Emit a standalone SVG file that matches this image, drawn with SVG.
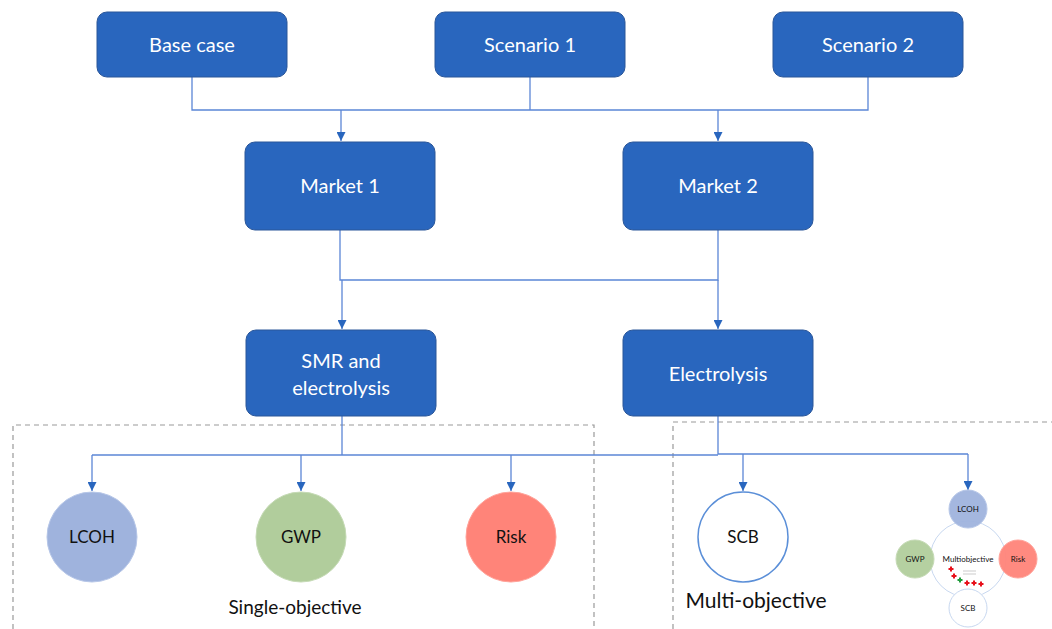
<svg xmlns="http://www.w3.org/2000/svg" width="1052" height="629" viewBox="0 0 1052 629">
<style>
.box{fill:#2966BE;stroke:#2A5699;stroke-width:1}
.bt{fill:#fff;font-family:Lato,"Liberation Sans",sans-serif;font-size:20px;text-anchor:middle}
.ct{fill:#111;font-family:Lato,"Liberation Sans",sans-serif;text-anchor:middle}
.con{fill:none;stroke:#5B86D6;stroke-width:1.3}
.dash{fill:none;stroke:#999;stroke-width:1.2;stroke-dasharray:5 4}
.lab{fill:#111;font-family:Lato,"Liberation Sans",sans-serif;text-anchor:middle}
.rp{fill:#E8111B}
</style>
<defs>
<marker id="ah" viewBox="0 0 10 10" refX="10" refY="5" markerWidth="9" markerHeight="9" markerUnits="userSpaceOnUse" orient="auto">
<path d="M0,0 L10,5 L0,10 z" fill="#2966BE"/>
</marker>
<path id="plus" d="M-2.5,-1h1.5v-1.5h2v1.5h1.5v2h-1.5v1.5h-2v-1.5h-1.5z"/>
</defs>
<rect width="1052" height="629" fill="#fff"/>
<g id="dashed">
<path class="dash" d="M13,629 V425 H594 V629"/>
<path class="dash" d="M673,629 V422 H1052"/>
</g>
<g id="connectors">
<path class="con" d="M192,77 V110 H868 V77"/>
<path class="con" d="M530,77 V110"/>
<path class="con" d="M341,110 V141" marker-end="url(#ah)"/>
<path class="con" d="M718,110 V141" marker-end="url(#ah)"/>
<path class="con" d="M340,230 V280 H718 V230"/>
<path class="con" d="M342,280 V329" marker-end="url(#ah)"/>
<path class="con" d="M718,280 V329" marker-end="url(#ah)"/>
<path class="con" d="M342,416 V455"/>
<path class="con" d="M92,455 H718"/>
<path class="con" d="M718,416 V454 H968"/>
<path class="con" d="M92,455 V491" marker-end="url(#ah)"/>
<path class="con" d="M301,455 V491" marker-end="url(#ah)"/>
<path class="con" d="M511,455 V491" marker-end="url(#ah)"/>
<path class="con" d="M743,454 V491" marker-end="url(#ah)"/>
<path class="con" d="M968,454 V490" marker-end="url(#ah)"/>
</g>
<g id="base-case"><rect class="box" x="97" y="12" width="190" height="65" rx="10"/><text class="bt" x="192" y="52">Base case</text></g>
<g id="scenario-1"><rect class="box" x="435" y="12" width="190" height="65" rx="10"/><text class="bt" x="530" y="52">Scenario 1</text></g>
<g id="scenario-2"><rect class="box" x="773" y="12" width="190" height="65" rx="10"/><text class="bt" x="868" y="52">Scenario 2</text></g>
<g id="market-1"><rect class="box" x="245" y="142" width="190" height="88" rx="10"/><text class="bt" x="340" y="193">Market 1</text></g>
<g id="market-2"><rect class="box" x="623" y="142" width="190" height="88" rx="10"/><text class="bt" x="718" y="193">Market 2</text></g>
<g id="smr"><rect class="box" x="246" y="330" width="190" height="86" rx="10"/><text class="bt" x="341" y="368">SMR and</text><text class="bt" x="341" y="395">electrolysis</text></g>
<g id="electrolysis"><rect class="box" x="623" y="330" width="190" height="86" rx="10"/><text class="bt" x="718" y="381">Electrolysis</text></g>
<g id="lcoh"><circle cx="92" cy="537" r="45" fill="#9FB3DD" stroke="#B7C7E8"/><text class="ct" x="92" y="543" font-size="17">LCOH</text></g>
<g id="gwp"><circle cx="301" cy="537" r="45" fill="#B1CD9C" stroke="#C5DAB5"/><text class="ct" x="301" y="543" font-size="17">GWP</text></g>
<g id="risk"><circle cx="511" cy="537" r="45" fill="#FF8479" stroke="#FFA39A"/><text class="ct" x="511" y="543" font-size="17">Risk</text></g>
<g id="scb"><circle cx="743" cy="537" r="45" fill="#fff" stroke="#5B8FD8" stroke-width="1.5"/><text class="ct" x="743" y="543" font-size="17">SCB</text></g>
<g id="multi">
<circle cx="968" cy="559" r="38" fill="#fff" stroke="#C8D8F0" stroke-width="1"/>
<circle cx="968" cy="509" r="19" fill="#9FB3DD" fill-opacity="0.95" stroke="#B7C7E8"/>
<circle cx="915" cy="559" r="19" fill="#B1CD9C" fill-opacity="0.95" stroke="#C5DAB5"/>
<circle cx="1018" cy="559" r="19" fill="#FF8479" fill-opacity="0.95" stroke="#FFA39A"/>
<circle cx="968" cy="608" r="19" fill="#fff" stroke="#C8D8F0"/>
<text class="ct" x="968" y="512" font-size="8">LCOH</text>
<text class="ct" x="915" y="562" font-size="8">GWP</text>
<text class="ct" x="1018" y="562" font-size="8">Risk</text>
<text class="ct" x="968" y="611" font-size="8">SCB</text>
<text class="ct" x="968" y="562" font-size="8" fill="#333">Multiobjective</text>
<use href="#plus" x="951" y="569" class="rp"/>
<use href="#plus" x="954" y="576" class="rp"/>
<use href="#plus" x="960" y="580" fill="#1E9B3A"/>
<use href="#plus" x="967" y="583" class="rp"/>
<use href="#plus" x="974" y="583" class="rp"/>
<use href="#plus" x="981" y="584" class="rp"/>
<g stroke="#aaa" stroke-width="0.6"><path d="M963,571h13M963,574h13"/></g>
</g>
<text class="lab" x="295" y="614" font-size="19">Single-objective</text>
<text class="lab" x="756" y="608" font-size="21">Multi-objective</text>
</svg>
